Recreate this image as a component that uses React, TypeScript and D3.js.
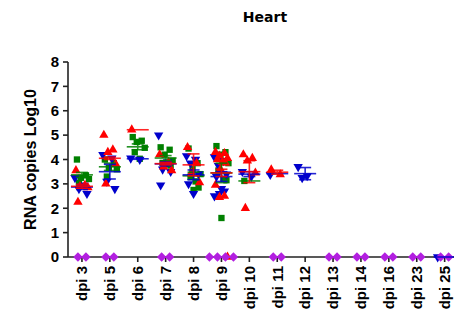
import React from 'react';
import * as d3 from 'd3';

const categories = ['dpi 3', 'dpi 5', 'dpi 6', 'dpi 7', 'dpi 8', 'dpi 9', 'dpi 10', 'dpi 11', 'dpi 12', 'dpi 13', 'dpi 14', 'dpi 16', 'dpi 23', 'dpi 25'];
const yTicks = [0, 1, 2, 3, 4, 5, 6, 7, 8];

// red triangles
const redValues: number[][] = [
  [3.55, 2.95, 2.9, 2.85, 2.25],
  [5.0, 4.4, 4.3, 3.8, 3.0],
  [5.22],
  [4.2, 3.9, 3.7, 3.55],
  [4.5, 3.85, 3.45, 3.05],
  [4.3, 4.25, 4.15, 4.05, 4.0, 3.9, 3.85, 3.6, 2.95, 2.5, 2.45, 0],
  [4.2, 4.05, 3.95, 3.45, 2.0],
  [3.58, 3.38],
  [], [], [], [], [], [],
];
const redMean = [2.9, 4.05, 5.22, 3.83, 3.78, 3.45, 3.5, 3.48, null, null, null, null, null, null];
const redErr = [0.08, 0.05, 0, 0.05, 0.45, 0.15, 0.45, 0.08, 0, 0, 0, 0, 0, 0];

// blue inverted triangles
const blueValues: number[][] = [
  [3.25, 2.95, 2.8, 2.6],
  [4.2, 4.05, 3.1, 2.8],
  [4.05, 4.0],
  [5.0, 3.9, 3.6, 3.5, 2.95],
  [4.15, 4.0, 3.85, 3.4, 3.0, 2.6],
  [4.1, 3.95, 3.75, 3.4, 3.3, 2.8, 2.7, 2.6, 2.5],
  [3.5, 3.3],
  [3.38],
  [3.7, 3.33, 3.25],
  [], [], [], [],
  [0],
];
const blueMean = [2.87, 3.5, 4.03, 3.82, 3.37, 3.3, 3.4, 3.42, 3.42, null, null, null, null, 0];
const blueErr = [0.1, 0.3, 0.02, 0.08, 0.2, 0.2, 0.1, 0, 0.25, 0, 0, 0, 0, 0];

// green squares
const greenValues: number[][] = [
  [4.0, 3.35, 3.25, 3.2, 3.05],
  [4.0, 3.85, 3.65, 3.6, 3.3],
  [4.92, 4.77, 4.72, 4.48, 4.3, 4.03],
  [4.5, 4.4, 4.2, 3.95, 3.85, 3.8, 3.75],
  [4.45, 3.85, 3.6, 3.4, 3.3, 3.1, 2.85, 2.75],
  [4.55, 4.3, 4.2, 3.85, 3.55, 3.2, 3.15, 1.6],
  [3.12],
  [], [], [], [], [], [], [],
];
const greenMean = [3.37, 3.7, 4.52, 4.06, 3.33, 3.45, 3.12, null, null, null, null, null, null, null];
const greenErr = [0.1, 0.15, 0.12, 0.1, 0.15, 0.4, 0, 0, 0, 0, 0, 0, 0, 0];

// purple diamonds (undetected, 0)
const purpleValues: number[][] = [
  [0, 0], [0, 0], [], [0, 0], [], [0, 0, 0, 0], [], [0, 0], [], [0, 0], [0, 0], [0, 0], [0, 0], [0, 0],
];

const W = 454;
const H = 314;
const margin = { top: 62, right: 0, bottom: 57, left: 68 };

const jitter = [-6, 3, -2, 6, -4, 1, 4, -1];

const series = [
  { values: greenValues, mean: greenMean, err: greenErr, color: '#008000', symbol: d3.symbolSquare, size: 40, rotate: 0, shift: 1 },
  { values: blueValues, mean: blueMean, err: blueErr, color: '#0000CC', symbol: d3.symbolTriangle, size: 38, rotate: 180, shift: -1 },
  { values: redValues, mean: redMean, err: redErr, color: '#FF0000', symbol: d3.symbolTriangle, size: 38, rotate: 0, shift: 0 },
];

export default function App() {
  const x = d3.scaleBand<string>().domain(categories).range([margin.left, margin.left + 14 * 27.9]).padding(0);
  const y = d3.scaleLinear().domain([0, 8]).range([H - margin.bottom, margin.top]);
  const cx = (c: string) => (x(c) as number) + x.bandwidth() / 2;
  const font = 'Liberation Sans, Arial, sans-serif';
  const diamond = d3.symbol().type(d3.symbolSquare).size(44)() as string;

  return (
    <svg width={W} height={H} style={{ position: 'absolute', left: 0, top: 0, background: '#fff' }}>
      <text x={265} y={22} textAnchor="middle" fontFamily="DejaVu Sans, sans-serif" fontWeight="bold" fontSize={14}>Heart</text>
      <text transform={`translate(36,${(y(0) + y(8)) / 2}) rotate(-90)`} textAnchor="middle" fontFamily={font} fontWeight="bold" fontSize={16}>RNA copies Log10</text>

      {/* y axis */}
      <line x1={margin.left} x2={margin.left} y1={y(8)} y2={y(0)} stroke="#222" strokeWidth={1.6} />
      {yTicks.map(t => (
        <g key={t}>
          <line x1={margin.left - 5} x2={margin.left} y1={y(t)} y2={y(t)} stroke="#222" strokeWidth={1.6} />
          <text x={margin.left - 9} y={y(t)} dy="0.35em" textAnchor="end" fontFamily={font} fontWeight="bold" fontSize={15}>{t}</text>
        </g>
      ))}

      {/* x axis */}
      <line x1={margin.left} x2={W} y1={y(0)} y2={y(0)} stroke="#222" strokeWidth={1.6} />
      {categories.map(c => (
        <g key={c}>
          <line x1={cx(c)} x2={cx(c)} y1={y(0)} y2={y(0) + 5} stroke="#222" strokeWidth={1.6} />
          <text transform={`translate(${cx(c)},${y(0) + 9}) rotate(-90)`} dy="0.35em" textAnchor="end" fontFamily={font} fontWeight="bold" fontSize={15}>{c}</text>
        </g>
      ))}

      {/* points */}
      {series.map((s, si) => (
        <g key={si}>
          {s.values.map((vals, ci) => vals.map((v, i) => {
            const px = cx(categories[ci]) + jitter[i % jitter.length] + s.shift;
            const path = d3.symbol().type(s.symbol).size(s.size)() as string;
            return (
              <path key={`${ci}-${i}`} d={path} fill={s.color}
                transform={`translate(${px},${y(v)}) rotate(${s.rotate})`} />
            );
          }))}
        </g>
      ))}
      {purpleValues.map((vals, ci) => vals.map((v, i) => {
        const px = cx(categories[ci]) + (i - (vals.length - 1) / 2) * 8;
        return <path key={`p${ci}-${i}`} d={diamond} fill="#B21FE0" transform={`translate(${px},${y(v)}) rotate(45)`} />;
      }))}

      {/* mean and error bars */}
      {series.map((s, si) => (
        <g key={`m${si}`} stroke={s.color} strokeWidth={1.6} opacity={0.85}>
          {s.mean.map((m, ci) => {
            if (m === null) return null;
            const c = cx(categories[ci]);
            const e = s.err[ci];
            return (
              <g key={ci}>
                <line x1={c - 11} x2={c + 11} y1={y(m)} y2={y(m)} />
                {e > 0 && (
                  <>
                    <line x1={c} x2={c} y1={y(m + e)} y2={y(m - e)} />
                    <line x1={c - 6} x2={c + 6} y1={y(m + e)} y2={y(m + e)} />
                    <line x1={c - 6} x2={c + 6} y1={y(m - e)} y2={y(m - e)} />
                  </>
                )}
              </g>
            );
          })}
        </g>
      ))}
    </svg>
  );
}
